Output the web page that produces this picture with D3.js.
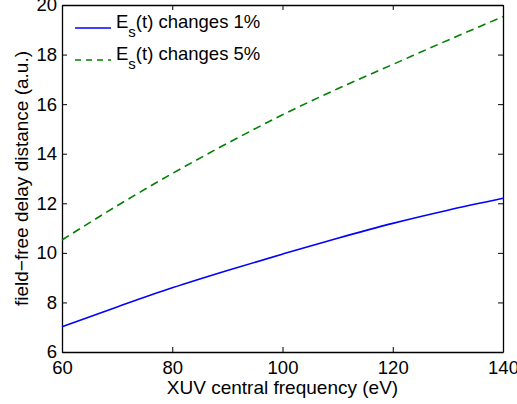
<!DOCTYPE html>
<html>
<head>
<meta charset="utf-8">
<script src="https://cdn.jsdelivr.net/npm/d3@7"></script>
<style>
  html, body { margin: 0; padding: 0; background: #fff; }
  svg { display: block; }
  text { font-family: "Liberation Sans", Arial, Helvetica, sans-serif; fill: #000; }
</style>
</head>
<body>
<svg id="chart" width="517" height="404"></svg>
<script>
// ---- data ----
const frequencies = [60, 70, 80, 90, 100, 110, 120, 130, 140];
const change1 = [7.02, 7.82, 8.59, 9.29, 9.95, 10.59, 11.19, 11.72, 12.2];
const change5 = [10.52, 11.9, 13.2, 14.42, 15.57, 16.62, 17.6, 18.58, 19.53];
const xTicks = [60, 80, 100, 120, 140];
const yTicks = [6, 8, 10, 12, 14, 16, 18, 20];
const seriesNames = ["changes 1%", "changes 5%"];
const xLabel = "XUV central frequency (eV)";
const yLabel = "field\u2212free delay distance (a.u.)";

// ---- layout ----
const W = 517, H = 404;
const m = { left: 62, right: 14, top: 5, bottom: 52 };
const svg = d3.select("#chart");
const x = d3.scaleLinear().domain([60, 140]).range([m.left, W - m.right]);
const y = d3.scaleLinear().domain([6, 20]).range([H - m.bottom, m.top]);
const tickLen = 5;
const fs = 18.5;
const labelFs = 19;

// axes (inward ticks on all sides)
const gB = svg.append("g").attr("transform", `translate(0,${y(6)})`)
  .call(d3.axisBottom(x).tickValues(xTicks).tickSizeInner(-tickLen).tickSizeOuter(0).tickPadding(9));
const gT = svg.append("g").attr("transform", `translate(0,${y(20)})`)
  .call(d3.axisTop(x).tickValues(xTicks).tickSizeInner(-tickLen).tickSizeOuter(0).tickFormat(""));
const gL = svg.append("g").attr("transform", `translate(${x(60)},0)`)
  .call(d3.axisLeft(y).tickValues(yTicks).tickSizeInner(-tickLen).tickSizeOuter(0).tickPadding(5));
const gR = svg.append("g").attr("transform", `translate(${x(140)},0)`)
  .call(d3.axisRight(y).tickValues(yTicks).tickSizeInner(-tickLen).tickSizeOuter(0).tickFormat(""));

[gB, gT, gL, gR].forEach(g => {
  g.selectAll("path.domain").attr("stroke", "#000").attr("stroke-width", 1.3);
  g.selectAll(".tick line").attr("stroke", "#000").attr("stroke-width", 1);
  g.selectAll("text").style("font-size", fs + "px").attr("fill", "#000")
    .style("font-family", '"Liberation Sans", Arial, sans-serif');
});

// lines
const pts1 = frequencies.map((f, i) => [f, change1[i]]);
const pts5 = frequencies.map((f, i) => [f, change5[i]]);
const line = d3.line().x(d => x(d[0])).y(d => y(d[1])).curve(d3.curveMonotoneX);

svg.append("path").datum(pts5).attr("d", line)
  .attr("fill", "none").attr("stroke", "#008000").attr("stroke-width", 1.6)
  .attr("stroke-dasharray", "8,5");
svg.append("path").datum(pts1).attr("d", line)
  .attr("fill", "none").attr("stroke", "#0000ff").attr("stroke-width", 1.6);

// axis labels
svg.append("text").attr("x", (x(60) + x(140)) / 2).attr("y", 394)
  .attr("text-anchor", "middle").style("font-size", labelFs + "px").text(xLabel);
svg.append("text")
  .attr("transform", `translate(28,${(y(6) + y(20)) / 2}) rotate(-90)`)
  .attr("text-anchor", "middle").style("font-size", labelFs + "px").text(yLabel);

// legend
const legend = [
  { name: seriesNames[0], color: "#0000ff", dash: null, yb: 28 },
  { name: seriesNames[1], color: "#008000", dash: "6,5", yb: 60 }
];
legend.forEach(l => {
  svg.append("line").attr("x1", 75).attr("x2", 111).attr("y1", l.yb).attr("y2", l.yb)
    .attr("stroke", l.color).attr("stroke-width", 1.6)
    .attr("stroke-dasharray", l.dash);
  const t = svg.append("text").attr("x", 116).attr("y", l.yb).style("font-size", "18.5px");
  t.append("tspan").text("E");
  t.append("tspan").attr("dy", 9).style("font-size", "15px").text("s");
  t.append("tspan").attr("dy", -9).text("(t) " + l.name);
});
</script>
</body>
</html>
